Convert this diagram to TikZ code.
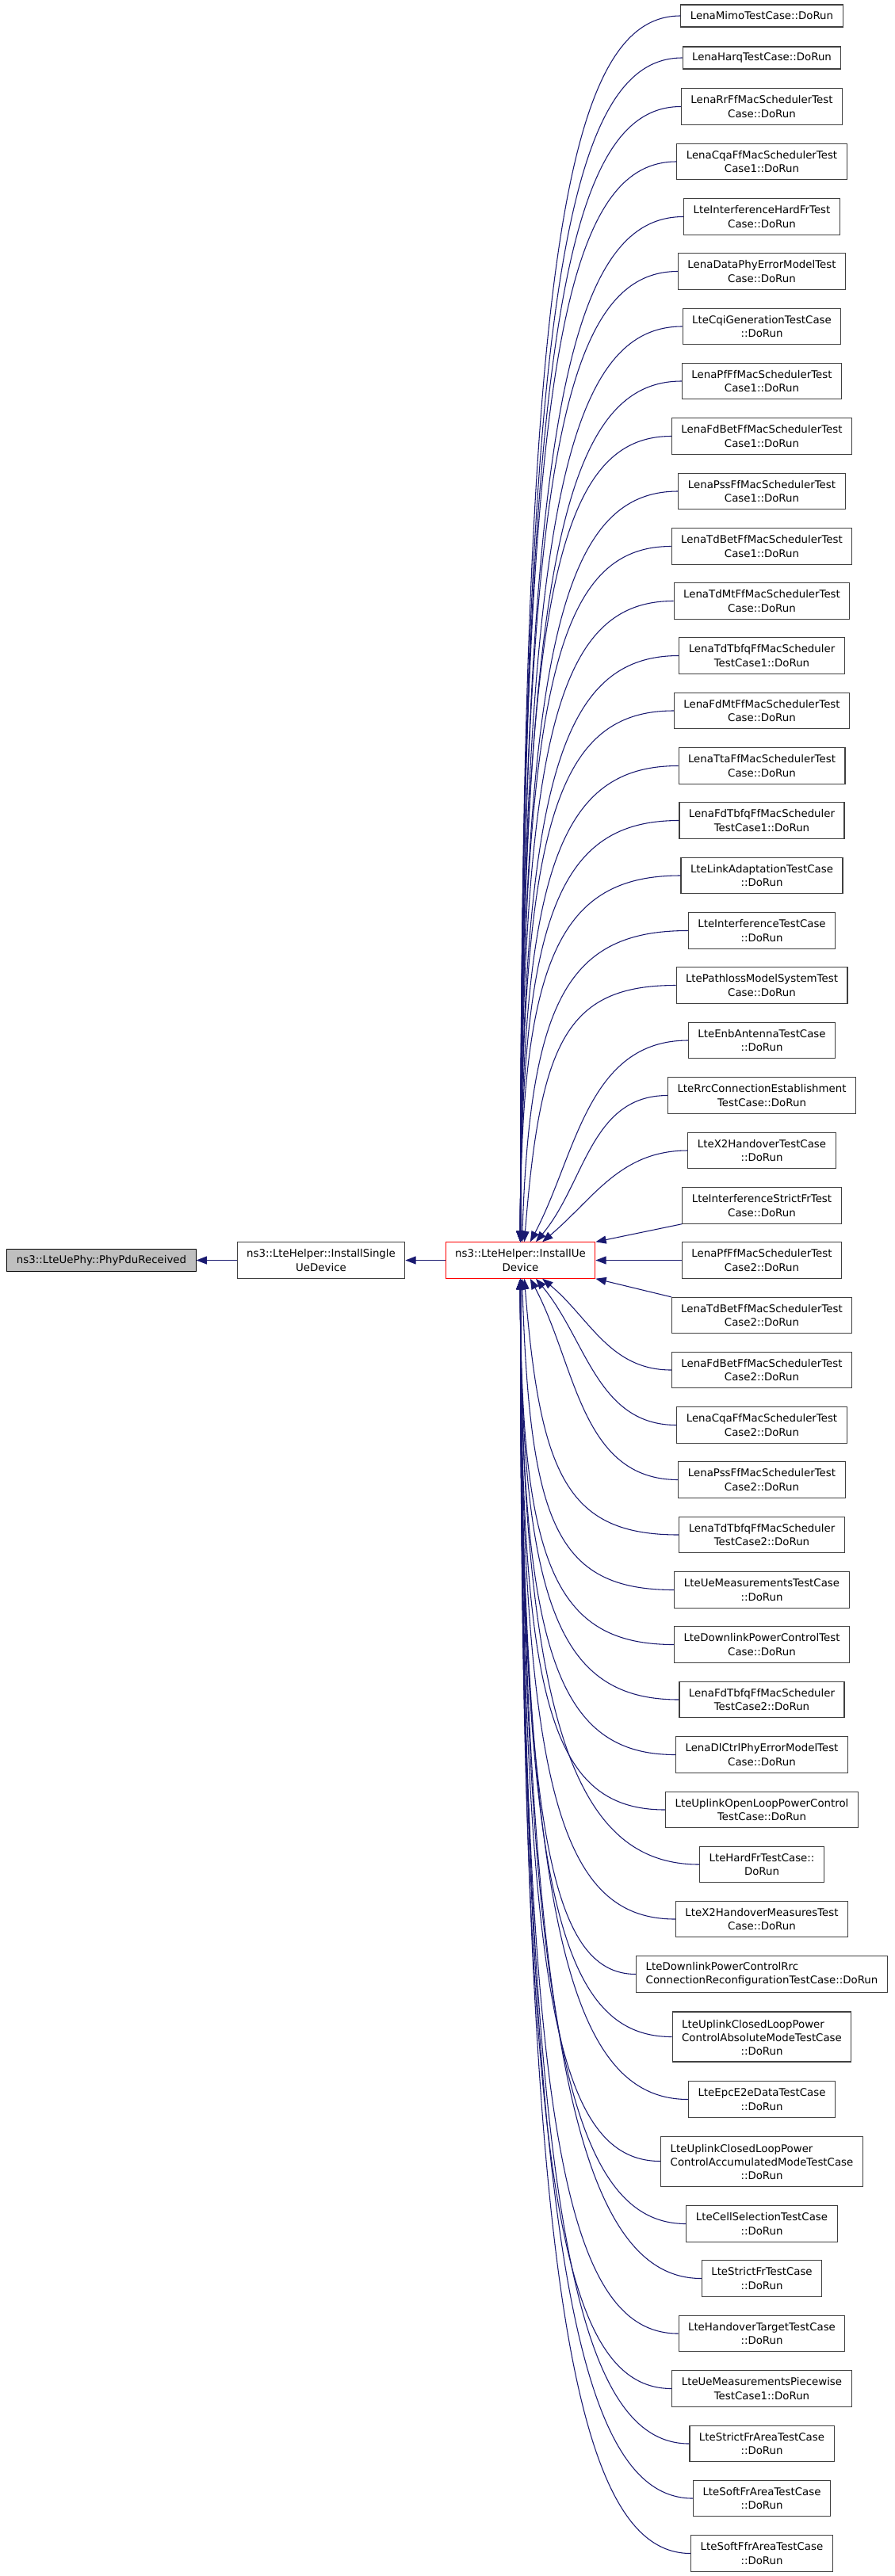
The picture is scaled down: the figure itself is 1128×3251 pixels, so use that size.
\documentclass[tikz,border=0pt]{standalone}
\usepackage{fontspec}
\setmainfont{DejaVu Sans}
\usetikzlibrary{arrows.meta}
\definecolor{Edgecol}{RGB}{25, 25, 112}
\definecolor{Rootfill}{RGB}{191, 191, 191}
\definecolor{Ueline}{RGB}{255, 0, 0}
\definecolor{Boxline}{RGB}{64, 64, 64}

\begin{document}
\begin{tikzpicture}[
    x=0.75pt, y=-0.75pt, % 1 unit = 1px, y downwards
    every node/.style={align=center},
    fnbox/.style={
        rectangle, draw=Boxline, line width=0.8pt, fill=white,
        inner xsep=9pt, inner ysep=1pt, minimum height=21pt,
        font=\fontsize{10}{13}\selectfont
    },
    twoline/.style={minimum height=34pt},
    threeline/.style={minimum height=47.25pt},
    calledge/.style={
        -{Triangle[length=10pt, width=7.5pt]},
        line width=0.8pt,
        color=Edgecol
    }
]

    \useasboundingbox (0,0) rectangle (1128,3251);

    % ------------------- CATENA A SINISTRA -------------------
    \node[fnbox, fill=Rootfill, draw=black] (nPhy) at (128,1590.5) {ns3::LteUePhy::PhyPduReceived};
    \node[fnbox, twoline] (nSingle) at (405,1590.5) {ns3::LteHelper::InstallSingle\\UeDevice};
    \node[fnbox, twoline, draw=Ueline] (nUe) at (656.5,1590.5) {ns3::LteHelper::InstallUe\\Device};
    \draw[calledge] (nSingle) -- (nPhy);
    \draw[calledge] (nUe) -- (nSingle);

    % ------------------- CHIAMANTI SOPRA -------------------
    \node[fnbox] (cMimo) at (961,20) {LenaMimoTestCase::DoRun};
    \draw[calledge] (cMimo.west) .. controls +(-150,0) and +(0,-1207) .. (nUe.north);

    \node[fnbox] (cHarq) at (961,73) {LenaHarqTestCase::DoRun};
    \draw[calledge] (cHarq.west) .. controls +(-150,0) and +(0,-1166) .. (nUe.north);

    \node[fnbox, twoline] (cRr) at (961,134.5) {LenaRrFfMacSchedulerTest\\Case::DoRun};
    \draw[calledge] (cRr.west) .. controls +(-150,0) and +(0,-1118) .. (nUe.north);

    \node[fnbox, twoline] (cCqa1) at (961,204) {LenaCqaFfMacSchedulerTest\\Case1::DoRun};
    \draw[calledge] (cCqa1.west) .. controls +(-150,0) and +(0,-1064) .. (nUe.north);

    \node[fnbox, twoline] (cIntHardFr) at (961,273.5) {LteInterferenceHardFrTest\\Case::DoRun};
    \draw[calledge] (cIntHardFr.west) .. controls +(-150,0) and +(0,-1010) .. (nUe.north);

    \node[fnbox, twoline] (cDataPhy) at (961,342.5) {LenaDataPhyErrorModelTest\\Case::DoRun};
    \draw[calledge] (cDataPhy.west) .. controls +(-150,0) and +(0,-956) .. (nUe.north);

    \node[fnbox, twoline] (cCqi) at (961,412) {LteCqiGenerationTestCase\\::DoRun};
    \draw[calledge] (cCqi.west) .. controls +(-150,0) and +(0,-902) .. (nUe.north);

    \node[fnbox, twoline] (cPf1) at (961,481) {LenaPfFfMacSchedulerTest\\Case1::DoRun};
    \draw[calledge] (cPf1.west) .. controls +(-150,0) and +(0,-848) .. (nUe.north);

    \node[fnbox, twoline] (cFdBet1) at (961,550.5) {LenaFdBetFfMacSchedulerTest\\Case1::DoRun};
    \draw[calledge] (cFdBet1.west) .. controls +(-150,0) and +(0,-794) .. (nUe.north);

    \node[fnbox, twoline] (cPss1) at (961,620) {LenaPssFfMacSchedulerTest\\Case1::DoRun};
    \draw[calledge] (cPss1.west) .. controls +(-150,0) and +(0,-739) .. (nUe.north);

    \node[fnbox, twoline] (cTdBet1) at (961,689.5) {LenaTdBetFfMacSchedulerTest\\Case1::DoRun};
    \draw[calledge] (cTdBet1.west) .. controls +(-150,0) and +(0,-685) .. (nUe.north);

    \node[fnbox, twoline] (cTdMt) at (961,758.5) {LenaTdMtFfMacSchedulerTest\\Case::DoRun};
    \draw[calledge] (cTdMt.west) .. controls +(-150,0) and +(0,-631) .. (nUe.north);

    \node[fnbox, twoline] (cTdTbfq1) at (961,827.5) {LenaTdTbfqFfMacScheduler\\TestCase1::DoRun};
    \draw[calledge] (cTdTbfq1.west) .. controls +(-150,0) and +(0,-578) .. (nUe.north);

    \node[fnbox, twoline] (cFdMt) at (961,897) {LenaFdMtFfMacSchedulerTest\\Case::DoRun};
    \draw[calledge] (cFdMt.west) .. controls +(-150,0) and +(0,-523) .. (nUe.north);

    \node[fnbox, twoline] (cTta) at (961,966.5) {LenaTtaFfMacSchedulerTest\\Case::DoRun};
    \draw[calledge] (cTta.west) .. controls +(-150,0) and +(0,-469) .. (nUe.north);

    \node[fnbox, twoline] (cFdTbfq1) at (961,1035.5) {LenaFdTbfqFfMacScheduler\\TestCase1::DoRun};
    \draw[calledge] (cFdTbfq1.west) .. controls +(-150,0) and +(0,-415) .. (nUe.north);

    \node[fnbox, twoline] (cLinkAd) at (961,1105) {LteLinkAdaptationTestCase\\::DoRun};
    \draw[calledge] (cLinkAd.west) .. controls +(-150,0) and +(0,-361) .. (nUe.north);

    \node[fnbox, twoline] (cInterf) at (961,1174.5) {LteInterferenceTestCase\\::DoRun};
    \draw[calledge] (cInterf.west) .. controls +(-150,0) and +(10,-307) .. (nUe.85);

    \node[fnbox, twoline] (cPathloss) at (961,1243.5) {LtePathlossModelSystemTest\\Case::DoRun};
    \draw[calledge] (cPathloss.west) .. controls +(-140,0) and +(20,-250) .. (nUe.78);

    \node[fnbox, twoline] (cEnbAnt) at (961,1313) {LteEnbAntennaTestCase\\::DoRun};
    \draw[calledge] (cEnbAnt.west) .. controls +(-127,0) and +(58,-110) .. (nUe.62);

    \node[fnbox, twoline] (cRrc) at (961,1382.5) {LteRrcConnectionEstablishment\\TestCase::DoRun};
    \draw[calledge] (cRrc.west) .. controls +(-97,0) and +(62,-74) .. (nUe.50);

    \node[fnbox, twoline] (cX2Ho) at (961,1452) {LteX2HandoverTestCase\\::DoRun};
    \draw[calledge] (cX2Ho.west) .. controls +(-85,0) and +(65,-55) .. (nUe.40);

    % ------------------- CHIAMANTI AL CENTRO -------------------
    \node[fnbox, twoline] (cIntStrictFr) at (961,1521.5) {LteInterferenceStrictFrTest\\Case::DoRun};
    \draw[calledge] (cIntStrictFr.south west) -- (nUe.north east);

    \node[fnbox, twoline] (cPf2) at (961,1590.5) {LenaPfFfMacSchedulerTest\\Case2::DoRun};
    \draw[calledge] (cPf2) -- (nUe);

    \node[fnbox, twoline] (cTdBet2) at (961,1660) {LenaTdBetFfMacSchedulerTest\\Case2::DoRun};
    \draw[calledge] (cTdBet2.north west) -- (nUe.south east);

    % ------------------- CHIAMANTI SOTTO -------------------
    \node[fnbox, twoline] (cFdBet2) at (961,1729) {LenaFdBetFfMacSchedulerTest\\Case2::DoRun};
    \draw[calledge] (cFdBet2.west) .. controls +(-78,0) and +(60,50) .. (nUe.-40);

    \node[fnbox, twoline] (cCqa2) at (961,1798.5) {LenaCqaFfMacSchedulerTest\\Case2::DoRun};
    \draw[calledge] (cCqa2.west) .. controls +(-100,0) and +(64,77) .. (nUe.-50);

    \node[fnbox, twoline] (cPss2) at (961,1867.5) {LenaPssFfMacSchedulerTest\\Case2::DoRun};
    \draw[calledge] (cPss2.west) .. controls +(-123,0) and +(58,109) .. (nUe.-62);

    \node[fnbox, twoline] (cTdTbfq2) at (961,1937) {LenaTdTbfqFfMacScheduler\\TestCase2::DoRun};
    \draw[calledge] (cTdTbfq2.west) .. controls +(-140,0) and +(20,250) .. (nUe.-78);

    \node[fnbox, twoline] (cUeMeas) at (961,2006.5) {LteUeMeasurementsTestCase\\::DoRun};
    \draw[calledge] (cUeMeas.west) .. controls +(-150,0) and +(10,307) .. (nUe.-85);

    \node[fnbox, twoline] (cDlPc) at (961,2075.5) {LteDownlinkPowerControlTest\\Case::DoRun};
    \draw[calledge] (cDlPc.west) .. controls +(-150,0) and +(0,361) .. (nUe.south);

    \node[fnbox, twoline] (cFdTbfq2) at (961,2145) {LenaFdTbfqFfMacScheduler\\TestCase2::DoRun};
    \draw[calledge] (cFdTbfq2.west) .. controls +(-150,0) and +(0,415) .. (nUe.south);

    \node[fnbox, twoline] (cDlCtrl) at (961,2214.5) {LenaDlCtrlPhyErrorModelTest\\Case::DoRun};
    \draw[calledge] (cDlCtrl.west) .. controls +(-150,0) and +(0,469) .. (nUe.south);

    \node[fnbox, twoline] (cUlOlpc) at (961,2284) {LteUplinkOpenLoopPowerControl\\TestCase::DoRun};
    \draw[calledge] (cUlOlpc.west) .. controls +(-150,0) and +(0,523) .. (nUe.south);

    \node[fnbox, twoline] (cHardFr) at (961,2353) {LteHardFrTestCase::\\DoRun};
    \draw[calledge] (cHardFr.west) .. controls +(-150,0) and +(0,577) .. (nUe.south);

    \node[fnbox, twoline] (cX2Meas) at (961,2422) {LteX2HandoverMeasuresTest\\Case::DoRun};
    \draw[calledge] (cX2Meas.west) .. controls +(-150,0) and +(0,631) .. (nUe.south);

    \node[fnbox, twoline, align=left] (cDlPcRrc) at (961,2491.5) {LteDownlinkPowerControlRrc\\ConnectionReconfigurationTestCase::DoRun};
    \draw[calledge] (cDlPcRrc.west) .. controls +(-110,0) and +(0,685) .. (nUe.south);

    \node[fnbox, threeline] (cUlClpcAbs) at (961,2570.5) {\begin{tabular}[b]{@{}l@{}}LteUplinkClosedLoopPower\\ControlAbsoluteModeTestCase\end{tabular}\\::DoRun};
    \draw[calledge] (cUlClpcAbs.west) .. controls +(-150,0) and +(0,747) .. (nUe.south);

    \node[fnbox, twoline] (cE2e) at (961,2649.5) {LteEpcE2eDataTestCase\\::DoRun};
    \draw[calledge] (cE2e.west) .. controls +(-150,0) and +(0,808) .. (nUe.south);

    \node[fnbox, threeline] (cUlClpcAcc) at (961,2727.5) {\begin{tabular}[b]{@{}l@{}}LteUplinkClosedLoopPower\\ControlAccumulatedModeTestCase\end{tabular}\\::DoRun};
    \draw[calledge] (cUlClpcAcc.west) .. controls +(-140,0) and +(0,869) .. (nUe.south);

    \node[fnbox, twoline] (cCellSel) at (961,2806.5) {LteCellSelectionTestCase\\::DoRun};
    \draw[calledge] (cCellSel.west) .. controls +(-150,0) and +(0,931) .. (nUe.south);

    \node[fnbox, twoline] (cStrictFr) at (961,2875.5) {LteStrictFrTestCase\\::DoRun};
    \draw[calledge] (cStrictFr.west) .. controls +(-150,0) and +(0,985) .. (nUe.south);

    \node[fnbox, twoline] (cHoTarget) at (961,2945) {LteHandoverTargetTestCase\\::DoRun};
    \draw[calledge] (cHoTarget.west) .. controls +(-150,0) and +(0,1039) .. (nUe.south);

    \node[fnbox, twoline] (cUeMeasPw) at (961,3014.5) {LteUeMeasurementsPiecewise\\TestCase1::DoRun};
    \draw[calledge] (cUeMeasPw.west) .. controls +(-150,0) and +(0,1093) .. (nUe.south);

    \node[fnbox, twoline] (cStrictFrArea) at (961,3084) {LteStrictFrAreaTestCase\\::DoRun};
    \draw[calledge] (cStrictFrArea.west) .. controls +(-150,0) and +(0,1147) .. (nUe.south);

    \node[fnbox, twoline] (cSoftFrArea) at (961,3153) {LteSoftFrAreaTestCase\\::DoRun};
    \draw[calledge] (cSoftFrArea.west) .. controls +(-150,0) and +(0,1201) .. (nUe.south);

    \node[fnbox, twoline] (cSoftFfrArea) at (961,3222.5) {LteSoftFfrAreaTestCase\\::DoRun};
    \draw[calledge] (cSoftFfrArea.west) .. controls +(-150,0) and +(0,1255) .. (nUe.south);
\end{tikzpicture}
\end{document}
